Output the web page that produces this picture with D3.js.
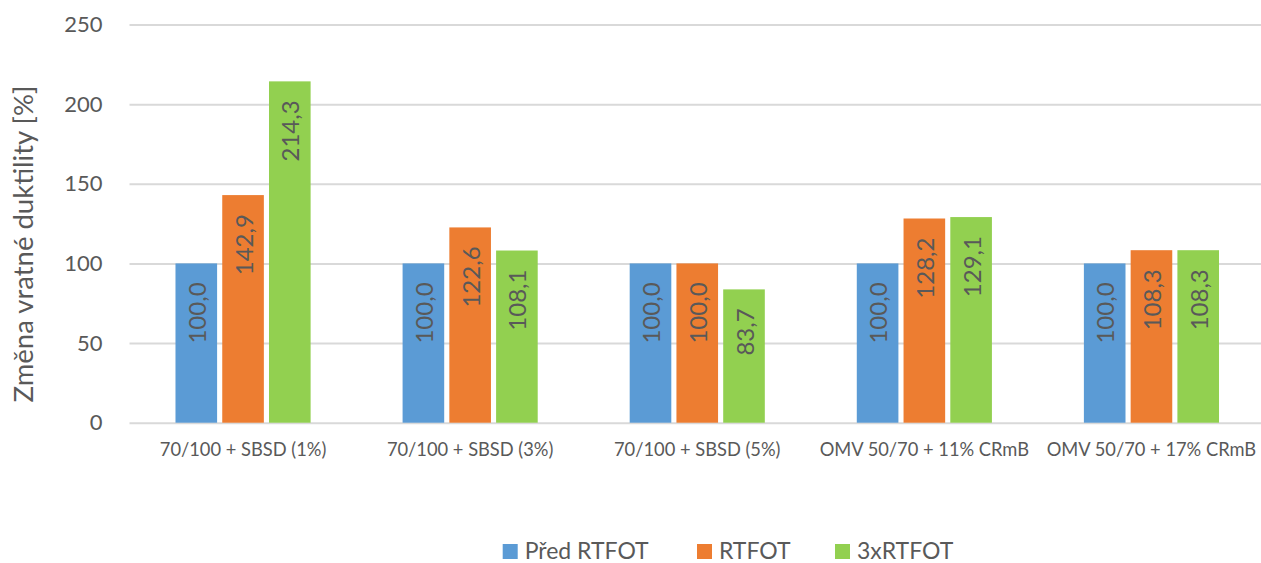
<!DOCTYPE html>
<html>
<head>
<meta charset="utf-8">
<script src="https://cdn.jsdelivr.net/npm/d3@7"></script>
<style>
  body { margin: 0; background: #fff; }
  svg { display: block; }
  text { font-family: Lato, "Open Sans", sans-serif; fill: #595959; }
</style>
</head>
<body>
<svg width="1261" height="563"></svg>
<script>
// data
const categories = [
  "70/100 + SBSD (1%)",
  "70/100 + SBSD (3%)",
  "70/100 + SBSD (5%)",
  "OMV 50/70 + 11% CRmB",
  "OMV 50/70 + 17% CRmB"
];
const seriesNames = ["Před RTFOT", "RTFOT", "3xRTFOT"];
const predRtfot = [100.0, 100.0, 100.0, 100.0, 100.0];
const rtfot = [142.9, 122.6, 100.0, 128.2, 108.3];
const rtfot3x = [214.3, 108.1, 83.7, 129.1, 108.3];
const yTicks = [0, 50, 100, 150, 200, 250];
const colors = ["#5B9BD5", "#ED7D31", "#92D050"];

const seriesValues = [predRtfot, rtfot, rtfot3x];

const svg = d3.select("svg");
const plot = { left: 129.5, right: 1265, top: 24.5, bottom: 422.7 };

const x0 = d3.scaleBand()
  .domain(categories)
  .range([plot.left, plot.right])
  .paddingInner(0.405)
  .paddingOuter(0.2025);

const x1 = d3.scaleBand()
  .domain(seriesNames)
  .range([0, x0.bandwidth()])
  .paddingInner(0.11);

const y = d3.scaleLinear().domain([0, 250]).range([plot.bottom, plot.top]);

const fmt = v => v.toFixed(1).replace(".", ",");

// gridlines + tick labels
const yAxis = d3.axisLeft(y).tickValues(yTicks).tickSize(-(plot.right - plot.left)).tickPadding(27);
const gy = svg.append("g")
  .attr("transform", `translate(${plot.left},0)`)
  .call(yAxis);
gy.select(".domain").remove();
gy.selectAll(".tick line").attr("stroke", "#D9D9D9").attr("stroke-width", 2);
gy.selectAll(".tick text")
  .attr("font-size", 22)
  .attr("fill", "#595959")
  .style("font-family", "Lato, sans-serif");

// bars
const rows = categories.map((c, i) => ({
  cat: c,
  vals: seriesNames.map((s, j) => ({ s, v: seriesValues[j][i], j }))
}));

const groups = svg.append("g")
  .selectAll("g")
  .data(rows)
  .join("g")
  .attr("transform", d => `translate(${x0(d.cat)},0)`);

groups.selectAll("rect")
  .data(d => d.vals)
  .join("rect")
  .attr("x", d => x1(d.s))
  .attr("width", x1.bandwidth())
  .attr("y", d => y(d.v))
  .attr("height", d => y(0) - y(d.v))
  .attr("fill", d => colors[d.j]);

// data labels, rotated, near the top of each bar
groups.selectAll("text")
  .data(d => d.vals)
  .join("text")
  .attr("transform", d => `translate(${x1(d.s) + x1.bandwidth() / 2},${y(d.v) + 19}) rotate(-90)`)
  .attr("text-anchor", "end")
  .attr("dominant-baseline", "central")
  .attr("font-size", 24)
  .attr("fill", "#404040")
  .text(d => fmt(d.v));

// category labels
svg.append("g")
  .selectAll("text")
  .data(categories)
  .join("text")
  .attr("x", d => x0(d) + x0.bandwidth() / 2)
  .attr("y", 456)
  .attr("text-anchor", "middle")
  .attr("font-size", 18.3)
  .text(d => d);

// y title
svg.append("text")
  .attr("transform", `translate(33,244) rotate(-90)`)
  .attr("text-anchor", "middle")
  .attr("font-size", 27.5)
  .text("Změna vratné duktility [%]");

// legend
const legendX = [502.7, 697, 835];
const legend = svg.append("g")
  .selectAll("g")
  .data(seriesNames)
  .join("g")
  .attr("transform", (d, i) => `translate(${legendX[i]},544)`);
legend.append("rect")
  .attr("width", 15).attr("height", 15)
  .attr("fill", (d, i) => colors[i]);
legend.append("text")
  .attr("x", 22).attr("y", 15)
  .attr("font-size", 23)
  .text(d => d);
</script>
</body>
</html>
